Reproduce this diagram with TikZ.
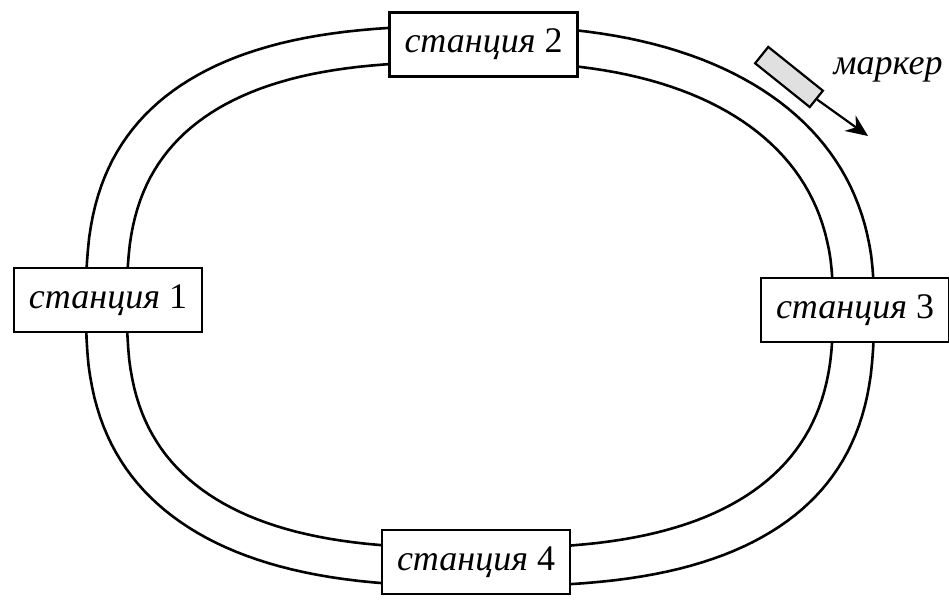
\documentclass[tikz,border=0pt]{standalone}
\usepackage{fontspec}
\setmainfont{Liberation Serif}
\usetikzlibrary{arrows.meta}

\begin{document}
\begin{tikzpicture}
      [ x=1pt, y=-1pt, line width=2.6pt,
        % exponent 2/n of the superellipse, one per quarter
        declare function={
          exo(\t) = (\t<90) ? 0.74 : ((\t<180) ? 0.77 : ((\t<270) ? 0.74 : 0.85));
          exi(\t) = (\t<90) ? 0.755 : ((\t<180) ? 0.74 : ((\t<270) ? 0.73 : 0.83));
        },
        rail/.style={domain=0.5:360.5, samples=181},
        station/.style={draw, fill=white, minimum width=188pt,
                        minimum height=64pt, inner sep=0pt,
                        font=\fontsize{36}{36}\selectfont},
        marker/.style={draw, fill=black!12, line width=2.2pt,
                       minimum width=70pt, minimum height=21pt,
                       inner sep=0pt, rotate=-38.7}
      ]
      \useasboundingbox (0,0) rectangle (949,599);

      % the ring
      \draw[rail, shift={(480,306)}]
        plot ({394*sign(cos(\x))*abs(cos(\x))^exo(\x)},
              {280*sign(sin(\x))*abs(sin(\x))^exo(\x)}) -- cycle;
      \draw[rail, shift={(480,305)}]
        plot ({353*sign(cos(\x))*abs(cos(\x))^exi(\x)},
              {243*sign(sin(\x))*abs(sin(\x))^exi(\x)}) -- cycle;

      \node[station] (st1) at (108,300)   {\textit{станция} 1};
      \node[station] (st2) at (483.5,44.5) {\textit{станция} 2};
      \node[station] (st3) at (855,310)   {\textit{станция} 3};
      \node[station] (st4) at (476,562)   {\textit{станция} 4};

      \node[marker] (m) at (789,77) {};
      \node (mlabel) at (888,70) {\fontsize{36}{36}\selectfont\textit{маркер}};
      \coordinate (mdir) at (868,136);

      \draw[-{Stealth[length=22pt,width=19pt]}, line width=2.2pt] (m.east) -- (mdir);
\end{tikzpicture}
\end{document}
